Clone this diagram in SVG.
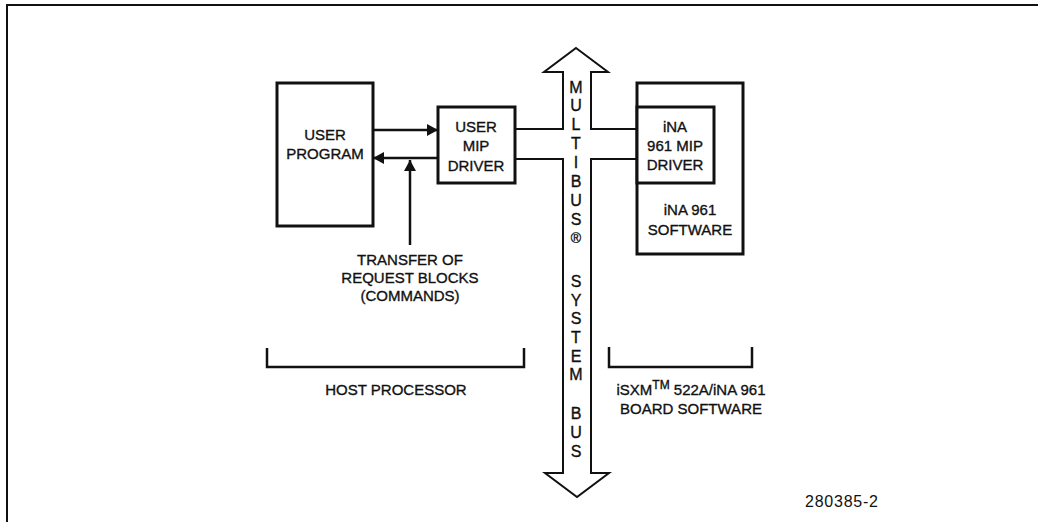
<svg xmlns="http://www.w3.org/2000/svg" width="1038" height="522" viewBox="0 0 1038 522">
<style>
.t{font-family:"Liberation Sans",Arial,sans-serif;font-size:15px;fill:#111;stroke:#111;stroke-width:0.35;text-anchor:middle}
.b{font-size:16px}
.box{fill:#fff;stroke:#111;stroke-width:3}
.ln{fill:none;stroke:#111;stroke-width:2.5}
.bus{fill:#fff;stroke:#111;stroke-width:2}
</style>
<defs>
<marker id="ah" viewBox="0 0 11 12" refX="11" refY="6" markerWidth="11" markerHeight="12" markerUnits="userSpaceOnUse" orient="auto">
<path d="M0,0 L11,6 L0,12 z" fill="#111"/>
</marker>
</defs>
<rect width="1038" height="522" fill="#fff"/>
<path d="M7,522 V5 H1038" fill="none" stroke="#111" stroke-width="2"/>
<g id="connectors">
<polygon class="bus" points="576,48 608,72 591,72 591,129 637,129 637,159 591,159 591,473 609,473 577,497 545,473 563,473 563,159 515,159 515,129 563,129 563,72 544,72"/>
<path class="ln" d="M373,130 H438" marker-end="url(#ah)"/>
<path class="ln" d="M438,158 H373" marker-end="url(#ah)"/>
<path class="ln" d="M410,245 V160" marker-end="url(#ah)"/>
</g>
<g id="user-program">
<rect class="box" x="277" y="83" width="96" height="143"/>
<text class="t" x="325" y="140">USER</text>
<text class="t" x="325" y="159">PROGRAM</text>
</g>
<g id="user-mip-driver">
<rect class="box" x="438" y="107" width="77" height="76"/>
<text class="t" x="476" y="132">USER</text>
<text class="t" x="476" y="151">MIP</text>
<text class="t" x="476" y="171">DRIVER</text>
</g>
<g id="ina-software">
<rect class="box" x="637" y="83" width="106" height="171"/>
<text class="t" x="690" y="215">iNA 961</text>
<text class="t" x="690" y="235">SOFTWARE</text>
</g>
<g id="ina-mip-driver">
<rect class="box" x="637" y="107" width="77" height="76"/>
<text class="t" x="675" y="132">iNA</text>
<text class="t" x="675" y="151">961 MIP</text>
<text class="t" x="675" y="170">DRIVER</text>
</g>
<g id="transfer-label">
<text class="t" x="410" y="265">TRANSFER OF</text>
<text class="t" x="410" y="283">REQUEST BLOCKS</text>
<text class="t" x="410" y="301">(COMMANDS)</text>
</g>
<g id="bus-label">
<text class="t b" x="576" y="93">M</text>
<text class="t b" x="576" y="111">U</text>
<text class="t b" x="576" y="130">L</text>
<text class="t b" x="576" y="149">T</text>
<text class="t b" x="576" y="168">I</text>
<text class="t b" x="576" y="187">B</text>
<text class="t b" x="576" y="206">U</text>
<text class="t b" x="576" y="225">S</text>
<text class="t" x="576" y="243" style="font-size:14px">®</text>
<text class="t b" x="576" y="287">S</text>
<text class="t b" x="576" y="306">Y</text>
<text class="t b" x="576" y="324">S</text>
<text class="t b" x="576" y="343">T</text>
<text class="t b" x="576" y="362">E</text>
<text class="t b" x="576" y="380">M</text>
<text class="t b" x="576" y="419">B</text>
<text class="t b" x="576" y="438">U</text>
<text class="t b" x="576" y="457">S</text>
</g>
<g id="host-processor">
<path class="ln" d="M267,348 V367 H524 V348"/>
<text class="t" x="396" y="395">HOST PROCESSOR</text>
</g>
<g id="board-software">
<path class="ln" d="M609,347 V367 H752 V347"/>
<text class="t" x="691" y="395">iSXM<tspan dy="-6" style="font-size:12px">TM</tspan><tspan dy="6"> 522A/iNA 961</tspan></text>
<text class="t" x="691" y="414">BOARD SOFTWARE</text>
</g>
<text x="878" y="507" textLength="73" style="font-family:'Liberation Sans',Arial,sans-serif;font-size:16px;fill:#111;text-anchor:end">280385-2</text>
</svg>
